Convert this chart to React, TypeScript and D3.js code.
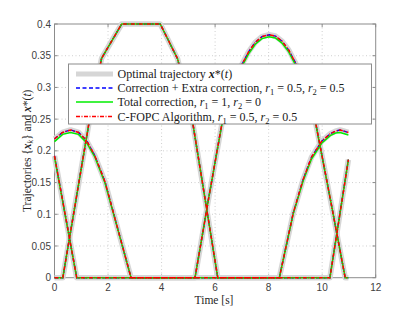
import React from 'react';
import * as d3 from 'd3';

// ---- tick labels ----
const xTicks = [0, 2, 4, 6, 8, 10, 12];
const yTicks = [0, 0.05, 0.1, 0.15, 0.2, 0.25, 0.3, 0.35, 0.4];
const yTickLabels = ['0', '0.05', '0.1', '0.15', '0.2', '0.25', '0.3', '0.35', '0.4'];

// ---- agent 1 ----
const time1 = [0, 0.3, 0.6, 0.9, 1.2, 1.5, 1.89, 2.3, 2.86, 8.4, 8.92, 9.29, 9.6, 9.98, 10.3, 10.5, 10.67, 10.98];
const optimal1 = [0.219, 0.229, 0.233, 0.229, 0.216, 0.193, 0.151, 0.087, 0, 0, 0.102, 0.155, 0.19, 0.215, 0.227, 0.231, 0.233, 0.229];
const total1 = [0.2145, 0.226, 0.229, 0.226, 0.213, 0.191, 0.149, 0.086, 0, 0, 0.101, 0.153, 0.187, 0.212, 0.224, 0.228, 0.229, 0.225];

// ---- agent 2 ----
const time2 = [0, 0.83, 5.25, 5.75, 6.28, 6.6, 7.0, 7.25, 7.5, 7.75, 8.02, 8.25, 8.5, 8.75, 9.0, 9.4, 9.73, 10.3, 10.86, 10.98];
const optimal2 = [0.192, 0, 0, 0.123, 0.249, 0.292, 0.336, 0.356, 0.371, 0.38, 0.383, 0.381, 0.373, 0.359, 0.339, 0.295, 0.25, 0.125, 0, 0];
const total2 = [0.19, 0, 0, 0.123, 0.248, 0.29, 0.333, 0.353, 0.368, 0.377, 0.38, 0.378, 0.37, 0.356, 0.336, 0.293, 0.249, 0.125, 0, 0];

// ---- agent 3 ----
const time3 = [0, 0.31, 1.3, 1.55, 1.76, 2.51, 3.95, 4.6, 4.85, 5.15, 6.1, 10.29, 10.98];
const optimal3 = [0, 0, 0.247, 0.303, 0.346, 0.4, 0.4, 0.345, 0.3, 0.248, 0, 0, 0.186];
const total3 = [0, 0, 0.247, 0.303, 0.346, 0.4, 0.4, 0.345, 0.3, 0.248, 0, 0, 0.186];

const W = 415, H = 315;
const L = 54.5, R = 375.7, T = 24, B = 277.7;

const x = d3.scaleLinear().domain([0, 12]).range([L, R]);
const y = d3.scaleLinear().domain([0, 0.4]).range([B, T]);

const lineGen = d3.line<[number, number]>().x(d => x(d[0])).y(d => y(d[1]));
const path = (ts: number[], vs: number[]) => lineGen(ts.map((t, i) => [t, vs[i]] as [number, number])) || '';

const optimalPaths = [path(time1, optimal1), path(time2, optimal2), path(time3, optimal3)];
const totalPaths = [path(time1, total1), path(time2, total2), path(time3, total3)];

const SERIF = '"Liberation Serif", "Times New Roman", serif';
const SANS = '"Liberation Sans", Arial, sans-serif';

const GRAY = '#d6d6d6';
const BLUE = '#0000ff';
const GREEN = '#00ee00';
const RED = '#ff0000';
const DASH = '4,2.5';
const DASHDOT = '4,1.5,1,1.5';

const Sub = ({ children }: { children: React.ReactNode }) => (
  <>
    <tspan dy={3} fontSize={8.5}>{children}</tspan>
    <tspan dy={-3}> </tspan>
  </>
);

export default function App() {
  const legendRows = [74, 88, 102, 116.5];
  const lx0 = 76, lx1 = 113, tx = 117.5;
  return (
    <svg width={W} height={H} style={{ position: 'absolute', left: 0, top: 0, background: '#fff' }}>
      <rect x={0} y={0} width={W} height={H} fill="#fff" />
      {/* grid */}
      {xTicks.slice(1, -1).map(t => (
        <line key={'gx' + t} x1={x(t)} x2={x(t)} y1={T} y2={B} stroke="#c4c4c4" strokeWidth={0.8} strokeDasharray="1,2.5" />
      ))}
      {yTicks.slice(1, -1).map(t => (
        <line key={'gy' + t} x1={L} x2={R} y1={y(t)} y2={y(t)} stroke="#c4c4c4" strokeWidth={0.8} strokeDasharray="1,2.5" />
      ))}
      {/* frame */}
      <rect x={L} y={T} width={R - L} height={B - T} fill="none" stroke="#8c8c8c" strokeWidth={1} />
      {/* ticks */}
      {xTicks.map(t => (
        <g key={'tx' + t}>
          <line x1={x(t)} x2={x(t)} y1={B} y2={B - 3.2} stroke="#8c8c8c" />
          <line x1={x(t)} x2={x(t)} y1={T} y2={T + 3.2} stroke="#8c8c8c" />
          <text x={x(t)} y={290.5} textAnchor="middle" fontFamily={SANS} fontSize={10} fill="#404040">{t}</text>
        </g>
      ))}
      {yTicks.map((t, i) => (
        <g key={'ty' + t}>
          <line x1={L} x2={L + 3.2} y1={y(t)} y2={y(t)} stroke="#8c8c8c" />
          <line x1={R} x2={R - 3.2} y1={y(t)} y2={y(t)} stroke="#8c8c8c" />
          <text x={51} y={y(t) + 3.6} textAnchor="end" fontFamily={SANS} fontSize={10} fill="#404040">{yTickLabels[i]}</text>
        </g>
      ))}
      {/* series */}
      {optimalPaths.map((d, i) => (
        <path key={'o' + i} d={d} fill="none" stroke={GRAY} strokeWidth={5.5} strokeLinejoin="round" />
      ))}
      {optimalPaths.map((d, i) => (
        <path key={'b' + i} d={d} fill="none" stroke={BLUE} strokeWidth={1.4} strokeDasharray={DASH} />
      ))}
      {totalPaths.map((d, i) => (
        <path key={'g' + i} d={d} fill="none" stroke={GREEN} strokeWidth={1.5} />
      ))}
      {optimalPaths.map((d, i) => (
        <path key={'r' + i} d={d} fill="none" stroke={RED} strokeWidth={1.5} strokeDasharray={DASHDOT} />
      ))}
      {/* axis labels */}
      <text x={214} y={303.5} textAnchor="middle" fontFamily={SERIF} fontSize={11.5} fill="#262626">Time [s]</text>
      <text transform="translate(30.5,150.8) rotate(-90)" textAnchor="middle" fontFamily={SERIF} fontSize={11.5} fill="#262626">
        Trajectories {'{'}<tspan fontWeight="bold" fontStyle="italic">x</tspan><tspan dy={2.5} fontSize={8} fontStyle="italic">k</tspan><tspan dy={-2.5}>{'}'}</tspan> and <tspan fontWeight="bold" fontStyle="italic">x</tspan>*(<tspan fontStyle="italic">t</tspan>)
      </text>
      {/* legend */}
      <rect x={68.5} y={64} width={303} height={60} fill="#fff" stroke="#8c8c8c" strokeWidth={1} />
      <line x1={lx0} x2={lx1} y1={legendRows[0]} y2={legendRows[0]} stroke={GRAY} strokeWidth={5} />
      <line x1={lx0} x2={lx1} y1={legendRows[1]} y2={legendRows[1]} stroke={BLUE} strokeWidth={1.4} strokeDasharray={DASH} />
      <line x1={lx0} x2={lx1} y1={legendRows[2]} y2={legendRows[2]} stroke={GREEN} strokeWidth={1.5} />
      <line x1={lx0} x2={lx1} y1={legendRows[3]} y2={legendRows[3]} stroke={RED} strokeWidth={1.5} strokeDasharray={DASHDOT} />
      <g fontFamily={SERIF} fontSize={12} fill="#1a1a1a">
        <text x={tx} y={legendRows[0] + 4}>
          Optimal trajectory <tspan fontWeight="bold" fontStyle="italic">x</tspan>*(<tspan fontStyle="italic">t</tspan>)
        </text>
        <text x={tx} y={legendRows[1] + 4}>
          Correction + Extra correction, <tspan fontStyle="italic">r</tspan><Sub>1</Sub>= 0.5, <tspan fontStyle="italic">r</tspan><Sub>2</Sub>= 0.5
        </text>
        <text x={tx} y={legendRows[2] + 4}>
          Total correction, <tspan fontStyle="italic">r</tspan><Sub>1</Sub>= 1, <tspan fontStyle="italic">r</tspan><Sub>2</Sub>= 0
        </text>
        <text x={tx} y={legendRows[3] + 4}>
          C-FOPC Algorithm, <tspan fontStyle="italic">r</tspan><Sub>1</Sub>= 0.5, <tspan fontStyle="italic">r</tspan><Sub>2</Sub>= 0.5
        </text>
      </g>
    </svg>
  );
}
